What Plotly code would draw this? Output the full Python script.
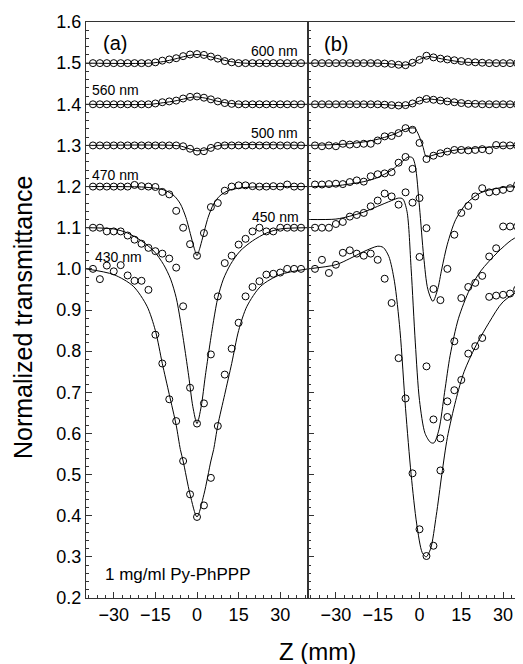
import plotly.graph_objects as go

# z positions of the measured points (mm)
z_pts = [-37.5, -35, -32.5, -30, -27.5, -25, -22.5, -20, -17.5, -15, -12.5, -10, -7.5, -5, -2.5, 0,
         2.5, 5, 7.5, 10, 12.5, 15, 17.5, 20, 22.5, 25, 27.5, 30, 32.5, 35, 37.5]

# panel (a) measured data
a_600 = [1.500, 1.500, 1.500, 1.500, 1.500, 1.500, 1.500, 1.500, 1.500, 1.502, 1.506, 1.509, 1.512, 1.517, 1.521, 1.522,
         1.520, 1.516, 1.511, 1.505, 1.502, 1.500, 1.500, 1.500, 1.500, 1.500, 1.500, 1.500, 1.500, 1.500, 1.500]
a_560 = [1.400, 1.400, 1.400, 1.400, 1.400, 1.400, 1.400, 1.400, 1.400, 1.402, 1.405, 1.407, 1.409, 1.414, 1.418, 1.419,
         1.416, 1.412, 1.407, 1.403, 1.401, 1.400, 1.400, 1.400, 1.400, 1.400, 1.400, 1.400, 1.400, 1.400, 1.400]
a_500 = [1.300, 1.300, 1.300, 1.300, 1.300, 1.300, 1.300, 1.300, 1.300, 1.300, 1.300, 1.300, 1.300, 1.298, 1.292, 1.285,
         1.286, 1.294, 1.299, 1.300, 1.300, 1.300, 1.300, 1.300, 1.300, 1.300, 1.300, 1.300, 1.300, 1.300, 1.300]
a_470 = [1.200, 1.200, 1.200, 1.200, 1.200, 1.200, 1.204, 1.201, 1.200, 1.199, 1.187, 1.181, 1.141, 1.100, 1.060, 1.032,
         1.087, 1.150, 1.160, 1.190, 1.200, 1.203, 1.203, 1.201, 1.200, 1.200, 1.201, 1.200, 1.205, 1.200, 1.200]
a_450 = [1.100, 1.100, 1.091, 1.091, 1.091, 1.081, 1.071, 1.061, 1.051, 1.043, 1.037, 1.025, 1.003, 0.909, 0.711, 0.624,
         0.673, 0.792, 0.933, 1.014, 1.032, 1.059, 1.073, 1.091, 1.100, 1.091, 1.091, 1.100, 1.100, 1.100, 1.100]
a_430 = [1.000, 0.975, 1.008, 0.994, 1.009, 0.984, 0.971, 0.971, 0.949, 0.840, 0.770, 0.683, 0.630, 0.533, 0.452, 0.397,
         0.425, 0.492, 0.618, 0.743, 0.806, 0.869, 0.933, 0.956, 0.970, 0.986, 0.988, 0.991, 1.000, 1.000, 1.000]

# panel (a) fitted curves
fa_600_z = [-40, -17, -12, -8, -4, 0, 4, 8, 12, 17, 40]
fa_600 = [1.500, 1.500, 1.504, 1.510, 1.517, 1.521, 1.517, 1.510, 1.504, 1.500, 1.500]
fa_560_z = [-40, -17, -12, -8, -4, -1, 3, 7, 11, 16, 40]
fa_560 = [1.400, 1.400, 1.404, 1.408, 1.414, 1.418, 1.415, 1.408, 1.403, 1.400, 1.400]
fa_500_z = [-40, -8, -5, -2.5, 0, 1, 3, 5, 8, 40]
fa_500 = [1.300, 1.300, 1.297, 1.291, 1.287, 1.287, 1.289, 1.294, 1.300, 1.300]
fa_470_z = [-40, -20, -15, -12, -10, -8, -6, -4, -2, -1, 0, 1, 2, 4, 6, 8, 10, 12, 15, 20, 40]
fa_470 = [1.200, 1.199, 1.196, 1.192, 1.186, 1.176, 1.158, 1.125, 1.075, 1.050, 1.032,
          1.050, 1.075, 1.125, 1.158, 1.176, 1.186, 1.192, 1.196, 1.199, 1.200]
fa_450_z = [-40, -30, -25, -20, -15.5, -12, -9.5, -7.5, -6, -4.5, -3, -1.5, 0,
            1.5, 3, 4.5, 6, 7.5, 9.5, 12, 15.5, 20, 25, 30, 40]
fa_450 = [1.100, 1.097, 1.087, 1.068, 1.043, 1.010, 0.975, 0.930, 0.875, 0.810, 0.740, 0.665, 0.624,
          0.665, 0.740, 0.810, 0.875, 0.930, 0.975, 1.010, 1.043, 1.068, 1.087, 1.097, 1.100]
fa_430_z = [-40, -30, -23, -18, -15, -12.5, -10, -7.5, -6, -5, -2.5, 0,
            2.5, 5, 6, 7.5, 10, 12.5, 15, 18, 23, 30, 40]
fa_430 = [1.000, 0.986, 0.958, 0.909, 0.850, 0.770, 0.695, 0.620, 0.561, 0.533, 0.452, 0.397,
          0.452, 0.533, 0.561, 0.620, 0.695, 0.770, 0.850, 0.909, 0.958, 0.986, 1.000]

# panel (b) measured data
b_600 = [1.500, 1.500, 1.500, 1.500, 1.500, 1.500, 1.500, 1.500, 1.500, 1.500, 1.499, 1.498, 1.496, 1.495, 1.501, 1.508,
         1.518, 1.514, 1.511, 1.509, 1.507, 1.505, 1.503, 1.502, 1.501, 1.500, 1.500, 1.500, 1.500, 1.500, 1.500]
b_560 = [1.400, 1.400, 1.400, 1.400, 1.400, 1.400, 1.400, 1.400, 1.400, 1.400, 1.399, 1.398, 1.397, 1.398, 1.402, 1.409,
         1.413, 1.411, 1.409, 1.407, 1.405, 1.403, 1.401, 1.401, 1.400, 1.400, 1.400, 1.400, 1.400, 1.400, 1.400]
b_500 = [1.300, 1.298, 1.300, 1.298, 1.304, 1.302, 1.303, 1.304, 1.304, 1.312, 1.322, 1.323, 1.330, 1.342, 1.338, 1.306,
         1.267, 1.275, 1.281, 1.285, 1.289, 1.289, 1.288, 1.289, 1.291, 1.288, 1.301, 1.300, 1.300, 1.300, 1.300]
b_470 = [1.205, 1.205, 1.206, 1.207, 1.206, 1.211, 1.215, 1.212, 1.225, 1.230, 1.232, 1.235, 1.258, 1.272, 1.243, 1.172,
         1.099, 0.951, 0.924, 1.000, 1.083, 1.136, 1.153, 1.176, 1.196, 1.186, 1.188, 1.192, 1.196, 1.204, 1.200]
b_450 = [1.100, 1.100, 1.100, 1.109, 1.114, 1.127, 1.131, 1.136, 1.152, 1.166, 1.183, 1.176, 1.156, 1.186, 1.161, 1.029,
         0.763, 0.634, 0.588, 0.678, 0.824, 0.929, 0.956, 0.966, 0.983, 1.030, 1.050, 1.103, 1.103, 1.103, 1.103]
b_430 = [1.000, 1.022, 0.990, 1.010, 1.039, 1.045, 1.037, 1.032, 1.037, 1.022, 0.976, 0.917, 0.783, 0.685, 0.503, 0.367,
         0.302, 0.327, 0.510, 0.640, 0.705, 0.730, 0.794, 0.812, 0.832, 0.932, 0.935, 0.937, 0.940, 0.950, 0.955]

# panel (b) fitted curves
fb_600_z = [-40, -15, -10, -6, -3, 0, 3, 6, 10, 15, 22, 40]
fb_600 = [1.500, 1.500, 1.498, 1.495, 1.498, 1.509, 1.516, 1.513, 1.508, 1.503, 1.501, 1.500]
fb_560_z = [-40, -15, -10, -6, -3, 0, 3, 6, 10, 15, 22, 40]
fb_560 = [1.400, 1.400, 1.398, 1.396, 1.399, 1.408, 1.413, 1.411, 1.407, 1.403, 1.401, 1.400]
fb_500_z = [-40, -25.2, -15.6, -9.6, -4.8, -1.8, -0.6, 1.2, 2.4, 4.2, 7.2, 13.2, 22.8, 34.8, 40]
fb_500 = [1.300, 1.304, 1.314, 1.326, 1.340, 1.342, 1.330, 1.298, 1.273, 1.275, 1.281, 1.289, 1.295, 1.300, 1.300]
fb_470_z = [-40, -30, -20, -15, -10, -6, -4, -2.5, -1.5, 0, 1.5, 3, 4.8, 6.5, 8, 10, 13, 17, 22, 30, 40]
fb_470 = [1.200, 1.202, 1.212, 1.222, 1.240, 1.262, 1.272, 1.270, 1.250, 1.150, 1.030, 0.950, 0.921, 0.950, 1.000,
          1.060, 1.120, 1.160, 1.185, 1.198, 1.200]
fb_450_z = [-40, -30, -25, -20, -15, -10, -7.5, -6, -4.5, -3, -1.5, 0, 2, 4, 5.2, 7, 9, 11, 14, 18, 22, 28, 33, 40]
fb_450 = [1.120, 1.121, 1.128, 1.138, 1.152, 1.166, 1.172, 1.170, 1.140, 1.000, 0.820, 0.680, 0.600, 0.578, 0.577,
          0.610, 0.700, 0.790, 0.880, 0.950, 0.995, 1.040, 1.070, 1.095]
fb_430_z = [-40, -30, -25, -20, -15, -13, -11, -9, -7, -5, -3, -1, 1, 2.4, 4, 6, 8, 10, 13, 16, 20, 25, 30, 40]
fb_430 = [1.000, 1.010, 1.025, 1.042, 1.055, 1.052, 1.030, 0.970, 0.850, 0.660, 0.500, 0.380, 0.310, 0.300, 0.320,
          0.400, 0.500, 0.590, 0.680, 0.750, 0.810, 0.870, 0.920, 0.965]

y_ticks = [0.2, 0.3, 0.4, 0.5, 0.6, 0.7, 0.8, 0.9, 1.0, 1.1, 1.2, 1.3, 1.4, 1.5, 1.6]
x_ticks = [-30, -15, 0, 15, 30]

FONT = "Liberation Sans, Arial, sans-serif"

# the page puts the figure 8 px in from the window corner, so the margins are 8 px smaller
L, T, PW, PH = 78, 14, 445, 576
SPLIT = 222 / PW

fig = go.Figure()

def add_panel(xa, ya, meas, fits):
    for ys in meas:
        fig.add_trace(go.Scatter(x=z_pts, y=ys, mode='markers', xaxis=xa, yaxis=ya,
                                 marker=dict(symbol='circle-open', size=7, color='black', line=dict(width=1)),
                                 showlegend=False))
    for zs, ys in fits:
        fig.add_trace(go.Scatter(x=zs, y=ys, mode='lines', xaxis=xa, yaxis=ya,
                                 line=dict(color='black', width=1, shape='spline', smoothing=0.8),
                                 showlegend=False))

add_panel('x', 'y', [a_600, a_560, a_500, a_470, a_450, a_430],
          [(fa_600_z, fa_600), (fa_560_z, fa_560), (fa_500_z, fa_500),
           (fa_470_z, fa_470), (fa_450_z, fa_450), (fa_430_z, fa_430)])
add_panel('x2', 'y2', [b_600, b_560, b_500, b_470, b_450, b_430],
          [(fb_600_z, fb_600), (fb_560_z, fb_560), (fb_500_z, fb_500),
           (fb_470_z, fb_470), (fb_450_z, fb_450), (fb_430_z, fb_430)])

axis_common = dict(showline=True, linecolor='#333', linewidth=1, ticks='inside', tickcolor='#333',
                   showgrid=False, zeroline=False, automargin=False,
                   tickfont=dict(size=18, color='black', family=FONT))

fig.update_layout(
    width=523, height=664,
    margin=dict(l=L, r=523 - L - PW, t=T, b=664 - T - PH, autoexpand=False),
    paper_bgcolor='white', plot_bgcolor='white',
    font=dict(family=FONT, color='black'),
    xaxis=dict(domain=[0, SPLIT], range=[-40, 40], tickvals=x_ticks, ticklen=6, mirror=True,
               minor=dict(ticks='inside', dtick=3, tick0=0, ticklen=3, tickcolor='#333'), **axis_common),
    yaxis=dict(range=[0.2, 1.6], tickvals=y_ticks, tickformat='.1f', ticklen=6, mirror=True,
               minor=dict(ticks='inside', dtick=0.02, tick0=0.2, ticklen=3, tickcolor='#333'), **axis_common),
    xaxis2=dict(domain=[SPLIT, 1], range=[-40, 40], tickvals=x_ticks, ticklen=6, mirror=True, anchor='y2',
                minor=dict(ticks='inside', dtick=3, tick0=0, ticklen=3, tickcolor='#333'), **axis_common),
    yaxis2=dict(range=[0.2, 1.6], tickvals=y_ticks, ticklen=6, showticklabels=False, anchor='x2',
                minor=dict(ticks='inside', dtick=0.02, tick0=0.2, ticklen=3, tickcolor='#333'), **axis_common),
)

def note(text, x, y, xref, yref, size=14, xanchor='center'):
    fig.add_annotation(text=text, x=x, y=y, xref=xref, yref=yref, showarrow=False,
                       xanchor=xanchor, yanchor='middle', font=dict(size=size, family=FONT, color='black'))

note('(a)', -29.5, 1.549, 'x', 'y', size=20)
note('(b)', -29.9, 1.547, 'x2', 'y2', size=20)
note('600 nm', 28, 1.530, 'x', 'y')
note('560 nm', -29.5, 1.435, 'x', 'y')
note('500 nm', 28, 1.331, 'x', 'y')
note('470 nm', -29.5, 1.229, 'x', 'y')
note('450 nm', 28.4, 1.127, 'x', 'y')
note('430 nm', -28.4, 1.030, 'x', 'y')
note('1 mg/ml Py-PhPPP', -33.8, 0.258, 'x', 'y', size=17, xanchor='left')

# axis titles, positions given in window pixels and turned into paper fractions
def px_note(text, px, py, size, angle=0):
    fig.add_annotation(text=text, x=(px - 8 - L) / PW, y=1 - (py - 8 - T) / PH, xref='paper', yref='paper',
                       showarrow=False, textangle=angle, xanchor='center', yanchor='middle',
                       font=dict(size=size, family=FONT, color='black'))

px_note('Normalized transmittance', 23, 318, 25, angle=-90)
px_note('Z (mm)', 317, 651, 24)

fig.write_html("out.html")
